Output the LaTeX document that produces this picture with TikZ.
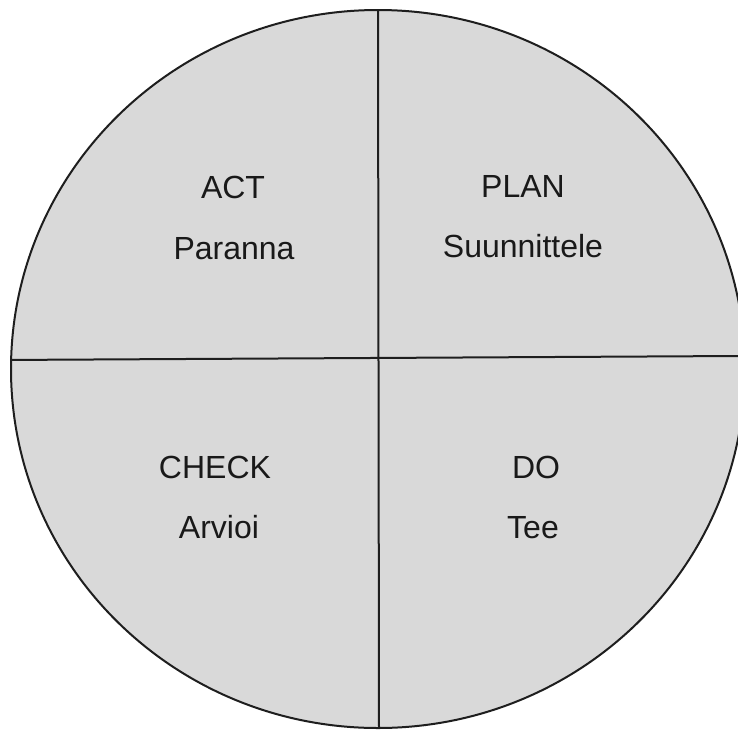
\documentclass[tikz,border=0pt]{standalone}
\usepackage{fontspec}
\setmainfont{Liberation Sans}
\definecolor{sectorfill}{RGB}{217,217,217}
\definecolor{edgecol}{RGB}{30,30,30}
\begin{document}
\begin{tikzpicture}[x=1pt,y=-1pt,
  lbl/.style={anchor=base, inner sep=0pt, text=black!90, font=\fontsize{32}{38}\selectfont},
  rim/.style={draw=edgecol, line width=2pt},
  divider/.style={draw=edgecol, line width=2pt}]
\useasboundingbox (0,0) rectangle (738,731);
\fill[white] (0,0) rectangle (738,731);
\coordinate (c) at (378,369);
\fill[sectorfill] (c) ellipse [x radius=367, y radius=359];
\begin{scope}
  \clip (c) ellipse [x radius=367, y radius=359];
  \coordinate (top) at (378,0);
  \coordinate (bot) at (379,731);
  \coordinate (lft) at (0,360);
  \coordinate (rgt) at (738,356);
  \draw[divider] (top) -- (bot);
  \draw[divider] (lft) -- (rgt);
\end{scope}
\draw[rim] (c) ellipse [x radius=367, y radius=359];
\node[lbl] (act) at (233,198) {ACT};
\node[lbl] (actf) at (234,259) {Paranna};
\node[lbl] (plan) at (523,197) {PLAN};
\node[lbl] (planf) at (523,257) {Suunnittele};
\node[lbl] (check) at (215,478) {CHECK};
\node[lbl] (checkf) at (219,538) {Arvioi};
\node[lbl] (do) at (536,478) {DO};
\node[lbl] (dof) at (533,538) {Tee};
\end{tikzpicture}
\end{document}
